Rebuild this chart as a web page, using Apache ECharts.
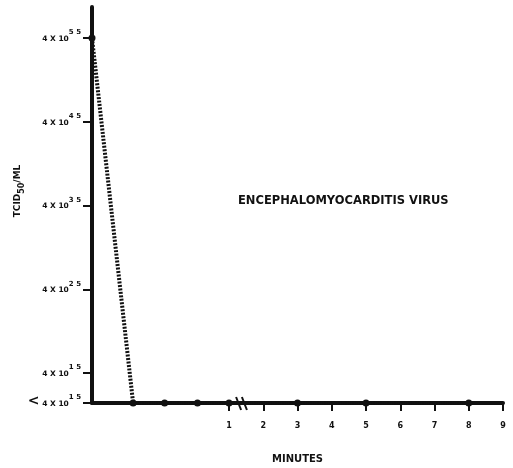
<!DOCTYPE html>
<html>
<head>
<meta charset="utf-8">
<script src="https://cdn.jsdelivr.net/npm/echarts@6/dist/echarts.min.js"></script>
<style>
  html, body { margin: 0; padding: 0; background: #fff; }
  #chart { width: 513px; height: 468px; }
</style>
</head>
<body>
<div id="chart"></div>
<script>
// sampling times (minutes) and log10 of the titer (4 x 10^n TCID50/ml)
const minutes = [0, 0.3, 0.53, 0.77, 1, 3, 5, 8]
// below detection limit points sit on the baseline
const FLOOR = 1.143
const log10Titer = [5.5, FLOOR, FLOOR, FLOOR, FLOOR, FLOOR, FLOOR, FLOOR]

const xTickMinutes = [1, 2, 3, 4, 5, 6, 7, 8, 9]
const yTickValues = [FLOOR, 1.5, 2.5, 3.5, 4.5, 5.5]
const yTickLabels = ['< 4 X 10^1.5', '4 X 10^1.5', '4 X 10^2.5', '4 X 10^3.5', '4 X 10^4.5', '4 X 10^5.5']
const breakAt = 1.4 // axis break (minutes)

// first minute is drawn 4x wider than the rest
function toAxis(t) { return t <= 1 ? t * 4 : t + 3 }
function fromAxis(u) { return u <= 4 ? u / 4 : u - 3 }

const FONT = 'DejaVu Sans'
const INK = '#111'

const chart = echarts.init(document.getElementById('chart'))

function yLabel(v) {
  const i = yTickValues.findIndex((x) => Math.abs(x - v) < 1e-6)
  const txt = yTickLabels[i] || ''
  const [base, exp] = txt.split('^')
  if (base.startsWith('<')) {
    return '{lt|<}{b| ' + base.slice(1).trim() + '}{s|' + exp.replace('.', ' ') + '}'
  }
  return '{b|' + base + '}{s|' + exp.replace('.', ' ') + '}'
}

chart.setOption({
  animation: false,
  title: {
    text: 'ENCEPHALOMYOCARDITIS VIRUS',
    left: 233,
    top: 190,
    textStyle: { fontFamily: FONT, fontSize: 11.5, fontWeight: 'bold', color: INK }
  },
  grid: { left: 92, right: 10, top: 7, bottom: 65, outerBoundsMode: 'none' },
  xAxis: {
    type: 'value',
    min: 0,
    max: 12,
    name: 'MINUTES',
    nameLocation: 'middle',
    nameGap: 51,
    nameMoveOverlap: false,
    nameTextStyle: { fontFamily: FONT, fontSize: 10, fontWeight: 'bold', color: INK },
    axisLine: { show: true, lineStyle: { color: INK, width: 4 } },
    axisTick: { show: true, customValues: xTickMinutes.map(toAxis), length: 8, lineStyle: { color: INK, width: 2 } },
    axisLabel: {
      customValues: xTickMinutes.map(toAxis),
      formatter: (v) => String(Math.round(fromAxis(v))),
      margin: 19,
      fontFamily: FONT, fontSize: 8, fontWeight: 'bold', color: INK
    },
    splitLine: { show: false }
  },
  yAxis: {
    type: 'value',
    min: FLOOR,
    max: 5.87,
    name: '{b|TCID}{sub|50}{b|/ML}',
    nameLocation: 'middle',
    nameRotate: 90,
    nameGap: 66,
    nameMoveOverlap: false,
    nameTextStyle: {
      padding: [0, 0, 0, 28],
      rich: {
        b: { fontFamily: FONT, fontSize: 9, fontWeight: 'bold', color: INK, verticalAlign: 'bottom', padding: [0, 0, 4, 0] },
        sub: { fontFamily: FONT, fontSize: 8, fontWeight: 'bold', color: INK, verticalAlign: 'bottom' }
      }
    },
    axisLine: { show: true, lineStyle: { color: INK, width: 4 } },
    axisTick: { show: true, customValues: yTickValues, length: 9, lineStyle: { color: INK, width: 2 } },
    axisLabel: {
      customValues: yTickValues,
      formatter: yLabel,
      margin: 11,
      padding: [0, 0, 4, 0],
      rich: {
        b: { fontFamily: FONT, fontSize: 7.5, fontWeight: 'bold', color: INK, verticalAlign: 'bottom' },
        s: { fontFamily: FONT, fontSize: 7, fontWeight: 'bold', color: INK, verticalAlign: 'bottom', padding: [0, 0, 7, 0] },
        lt: { fontFamily: FONT, fontSize: 14, fontWeight: 'bold', color: INK, verticalAlign: 'bottom' }
      }
    },
    splitLine: { show: false }
  },
  series: [{
    type: 'line',
    data: minutes.map((t, i) => [toAxis(t), log10Titer[i]]),
    symbol: 'circle',
    symbolSize: 7,
    itemStyle: { color: INK },
    lineStyle: { color: INK, width: 4, type: [2, 1.5] }
  }]
})

// break marks on the time axis
const p1 = chart.convertToPixel({ xAxisIndex: 0, yAxisIndex: 0 }, [toAxis(breakAt) - 0.12, FLOOR])
const p2 = chart.convertToPixel({ xAxisIndex: 0, yAxisIndex: 0 }, [toAxis(breakAt) + 0.05, FLOOR])
chart.setOption({
  graphic: [p1, p2].map((p) => ({
    type: 'line',
    shape: { x1: p[0] - 2.5, y1: p[1] - 6, x2: p[0] + 2.5, y2: p[1] + 7 },
    style: { stroke: INK, lineWidth: 2 }
  }))
})
</script>
</body>
</html>
